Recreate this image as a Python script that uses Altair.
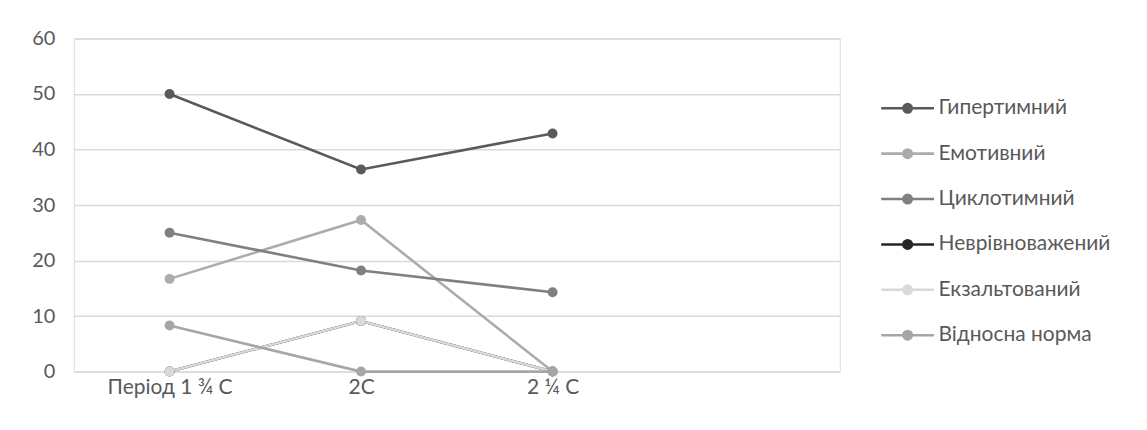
import altair as alt
import pandas as pd

periods = ["Період 1 ¾ С", "2С", "2 ¼ С"]
x_domain = periods + [" "]
series = ["Гипертимний", "Емотивний", "Циклотимний", "Неврівноважений",
          "Екзальтований", "Відносна норма"]
hyper = [50.0, 36.4, 42.9]
emot = [16.7, 27.3, 0.0]
cyclo = [25.0, 18.2, 14.3]
nevr = [0.0, 9.1, 0.0]
ekz = [0.0, 9.1, 0.0]
norm = [8.3, 0.0, 0.0]
colors = ["#5a5a5a", "#acacac", "#808080", "#262626", "#d9d9d9", "#a6a6a6"]

values = [hyper, emot, cyclo, nevr, ekz, norm]
rows = []
for si, (name, vals) in enumerate(zip(series, values)):
    for pi, (p, v) in enumerate(zip(periods, vals)):
        rows.append({"period": p, "series": name, "value": v, "order": si})
df = pd.DataFrame(rows)

sym = ("M-1,0L1,0"
       "M-0.16,0A0.16,0.16,0,1,1,0.16,0A0.16,0.16,0,1,1,-0.16,0Z")

chart = alt.Chart(df).mark_line(
    strokeWidth=2.6,
    point=alt.OverlayMarkDef(filled=True, size=100, opacity=1),
).encode(
    x=alt.X("period:N", sort=x_domain,
            scale=alt.Scale(domain=x_domain, type="point", padding=0.5),
            axis=alt.Axis(title=None, labelAngle=0, ticks=False, domain=False,
                          grid=False, labelFontSize=21, labelColor="#595959",
                          labelFont="Lato", labelPadding=5)),
    y=alt.Y("value:Q",
            scale=alt.Scale(domain=[0, 60], nice=False),
            axis=alt.Axis(title=None, values=[0, 10, 20, 30, 40, 50, 60],
                          ticks=False, domain=False, gridColor="#d9d9d9",
                          gridWidth=1.5, labelFontSize=20, labelColor="#595959",
                          labelFont="Lato", labelPadding=19)),
    color=alt.Color("series:N",
                    scale=alt.Scale(domain=series, range=colors),
                    legend=alt.Legend(
                        title=None, orient="none", legendX=808, legendY=42,
                        symbolType=sym, symbolSize=2809, symbolStrokeWidth=2.6,
                        labelFontSize=21, labelColor="#595959", labelFont="Lato",
                        labelOffset=3, rowPadding=7.5, labelLimit=400)),
    order=alt.Order("order:Q"),
).properties(
    width=768, height=334,
    autosize=alt.AutoSizeParams(type="none"),
    padding={"left": 66, "top": 30, "right": 300, "bottom": 50},
).configure_view(stroke=None).configure(background="white")

chart.save("out.html", embed_options={"renderer": "svg", "actions": False})
